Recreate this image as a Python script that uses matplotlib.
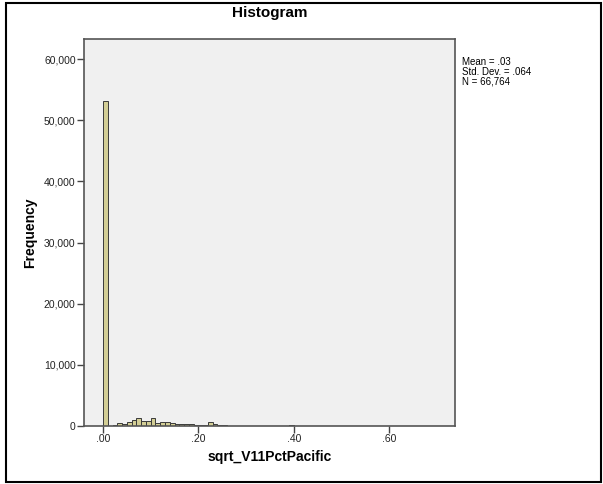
import matplotlib.pyplot as plt
from matplotlib.patches import Rectangle
from matplotlib.ticker import FuncFormatter

plt.rcParams['font.family'] = ['Liberation Sans', 'DejaVu Sans']

# bin left edges (width .01) and counts
binEdges = [round(i * 0.01, 2) for i in range(41)]
binCounts = [53200, 60, 120, 490, 380, 650, 1030, 1250, 815, 815,
             1360, 540, 650, 700, 490, 380, 380, 380, 330, 220,
             160, 160, 600, 330, 110, 90, 80, 70, 60, 50,
             40, 40, 35, 30, 30, 25, 25, 30, 60, 150]
yTicks = [0, 10000, 20000, 30000, 40000, 50000, 60000]
xTicks = [0.0, 0.2, 0.4, 0.6]
statsText = "Mean = .03\nStd. Dev. = .064\nN = 66,764"

fig = plt.figure(figsize=(6.03, 4.84), dpi=100)
fig.patches.append(Rectangle((6 / 603, 2 / 484), 595 / 603, 479 / 484,
                             transform=fig.transFigure, fill=False,
                             edgecolor="black", linewidth=1.5))

ax = fig.add_axes([0.1393, 0.1198, 0.6153, 0.7996])
ax.set_facecolor("#f0f0f0")
ax.bar(binEdges[:-1], binCounts, width=0.01, align="edge",
       color="#d3ce95", edgecolor="#3a3a3a", linewidth=0.7)

ax.set_xlim(-0.0399, 0.7384)
ax.set_ylim(0, 63270)
ax.set_xticks(xTicks)
ax.set_yticks(yTicks)
ax.xaxis.set_major_formatter(FuncFormatter(lambda v, p: ("%.2f" % v).lstrip("0")))
ax.yaxis.set_major_formatter(FuncFormatter(lambda v, p: "{:,.0f}".format(v)))
ax.tick_params(length=5, width=1, labelsize=7.5, pad=1, color="#444444",
               labelcolor="#222222")

for s in ax.spines.values():
    s.set_color("#555555")
    s.set_linewidth(1.2)

ax.set_title("Histogram", fontsize=11, fontweight="bold", pad=16)
ax.set_xlabel("sqrt_V11PctPacific", fontsize=10, fontweight="bold", labelpad=4)
ax.set_ylabel("Frequency", fontsize=10, fontweight="bold", labelpad=5)

fig.text(462 / 603, 1 - 57 / 484, statsText, fontsize=7, va="top",
         ha="left", linespacing=0.95)

fig.savefig("out.png", dpi=100)
